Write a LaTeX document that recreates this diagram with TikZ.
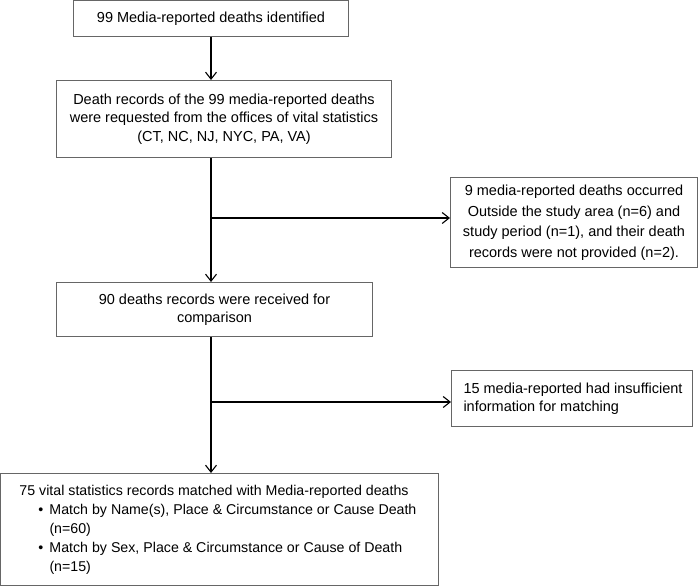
\documentclass[tikz,border=0pt]{standalone}
\usepackage{fontspec}
\setmainfont{Liberation Sans}
\usetikzlibrary{arrows.meta}
\usetikzlibrary{positioning}

\begin{document}
\begin{tikzpicture}[x=1pt,y=-1pt,
cell/.style={rectangle,draw=black!60,line width=1pt,anchor=north west,inner sep=0pt,align=center,font=\fontsize{14.5}{18.5}\selectfont},
leftcell/.style={cell,align=flush left},
flow/.style={line width=1.1pt,-{Straight Barb[length=7pt,width=11pt,line width=1.1pt]}}]
\useasboundingbox (0,0) rectangle (698,586);

\node (identified) [cell,minimum width=275pt,minimum height=36pt] at (73,0) {99 Media-reported deaths identified};
\node (requested) [cell,minimum width=335pt,minimum height=77pt] at (56,80) {Death records of the 99 media-reported deaths\\were requested from the offices of vital statistics\\(CT, NC, NJ, NYC, PA, VA)};
\node (excluded) [cell,minimum width=247pt,minimum height=90pt,font=\fontsize{14.5}{20.5}\selectfont] at (450,177) {9 media-reported deaths occurred\\Outside the study area (n=6) and\\study period (n=1), and their death\\records were not provided (n=2).};
\node (received) [cell,minimum width=316pt,minimum height=54pt] at (56,282) {90 deaths records were received for\\comparison};
\node (insufficient) [leftcell,text width=229pt,inner xsep=6pt,minimum height=56pt] at (451,370) {\hspace*{6pt}15 media-reported had insufficient\\\hspace*{6pt}information for matching};
\node (matched) [leftcell,text width=410pt,inner xsep=14pt,minimum height=112pt,font=\fontsize{14.2}{19}\selectfont] at (0,473) {\hspace*{5pt}75 vital statistics records matched with Media-reported deaths\\
\hspace*{24pt}\textbullet\hspace*{6pt}Match by Name(s), Place \& Circumstance or Cause Death\\
\hspace*{35pt}(n=60)\\
\hspace*{24pt}\textbullet\hspace*{6pt}Match by Sex, Place \& Circumstance or Cause of Death\\
\hspace*{35pt}(n=15)};

\coordinate (split1) at (211,218);
\coordinate (split2) at (211,402);

\draw[flow] (identified.south) -- (identified.south |- requested.north);
\draw[flow] (split1 |- requested.south) -- (split1 |- received.north);
\draw[flow] (split1) -- (split1 -| excluded.west);
\draw[flow] (split2 |- received.south) -- (split2 |- matched.north);
\draw[flow] (split2) -- (split2 -| insufficient.west);
\end{tikzpicture}
\end{document}
